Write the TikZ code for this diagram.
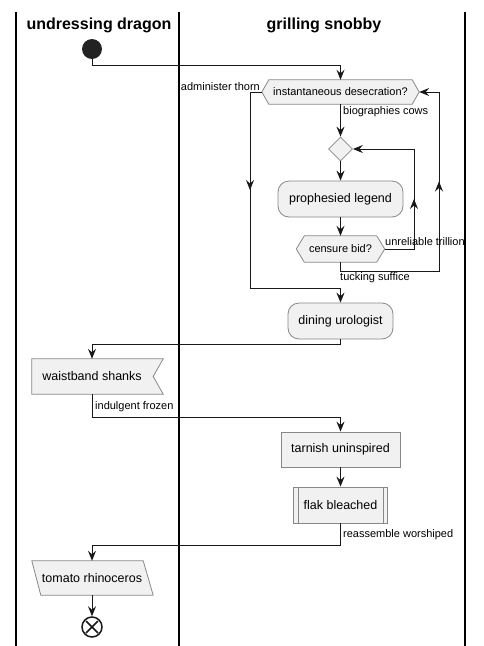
\documentclass[tikz,border=0pt]{standalone}
\usepackage{fontspec}
\setmainfont{Liberation Sans}
\usetikzlibrary{arrows.meta,calc,backgrounds,decorations.markings,shapes.geometric}
\definecolor{boxfill}{HTML}{F1F1F1}
\definecolor{boxline}{HTML}{888888}
\definecolor{ink}{HTML}{181818}
\definecolor{startfill}{HTML}{222222}
\begin{document}
\begin{tikzpicture}[x=1pt,y=-1pt,
  tip/.tip={Stealth[length=10pt,width=8pt,inset=3.5pt]},
  flow/.style={draw=ink, line width=1pt, -tip},
  wire/.style={draw=ink, line width=1pt},
  laneline/.style={draw=black, line width=1.5pt},
  boxshape/.style={draw=boxline, fill=boxfill, line width=0.8pt},
  acttext/.style={font=\fontsize{12.5}{14}\selectfont, inner sep=0pt},
  condtext/.style={font=\fontsize{11}{13}\selectfont, inner sep=0pt},
  lbl/.style={font=\fontsize{11}{13}\selectfont, inner sep=0pt},
  hdr/.style={font=\bfseries\fontsize{16}{19}\selectfont, inner sep=0pt},
  midarrow/.style={postaction={decorate}, decoration={markings, mark=at position 0.5 with {\arrow{tip}}}},
]
\useasboundingbox (0,0) rectangle (483,646);

% swimlanes
\draw[laneline] (16,12) -- (16,646);
\draw[laneline] (179,12) -- (179,646);
\draw[laneline] (465,12) -- (465,646);
\node[hdr] (lane1) at (99,25) {undressing dragon};
\node[hdr] (lane2) at (324,25) {grilling snobby};

% start
\node[circle, fill=startfill, minimum size=20pt, inner sep=0pt] (start) at (92,49) {};

% decision 1
\node[condtext, minimum width=157pt, minimum height=24pt] (hex1) at (340.5,92) {instantaneous desecration?};
% merge diamond
\node[diamond, boxshape, minimum width=24pt, minimum height=24pt, inner sep=0pt] (merge) at (340.5,149) {};
% activity
\node[boxshape, rounded corners=11pt, acttext, minimum width=125pt, minimum height=36pt] (legend) at (340.5,199) {prophesied legend};
% decision 2
\node[condtext, minimum width=88pt, minimum height=26pt] (censure) at (340.5,249) {censure bid?};
% activity
\node[boxshape, rounded corners=11pt, acttext, minimum width=105pt, minimum height=36pt] (dining) at (340.5,321) {dining urologist};
% receive
\node[acttext, minimum width=120pt, minimum height=35pt] (waist) at (92,376.5) {waistband shanks};
% plain activity
\node[boxshape, acttext, minimum width=119pt, minimum height=35pt] (tarnish) at (340.5,449.5) {tarnish uninspired};
% subprocess
\node[boxshape, acttext, minimum width=94pt, minimum height=36pt] (flak) at (340.5,505) {flak bleached};
\draw[boxline, line width=0.8pt] ($(flak.north west)+(5,0)$) -- ($(flak.south west)+(5,0)$);
\draw[boxline, line width=0.8pt] ($(flak.north east)+(-5,0)$) -- ($(flak.south east)+(-5,0)$);
% input
\node[acttext, minimum width=120pt, minimum height=34pt] (tomato) at (92,578) {tomato rhinoceros};
% end
\node[circle, draw=ink, fill=white, line width=1.5pt, minimum size=20pt, inner sep=0pt] (end) at (92,627) {};
\draw[ink, line width=1.5pt] ($(end.center)+(-6,-6)$) -- ($(end.center)+(6,6)$);
\draw[ink, line width=1.5pt] ($(end.center)+(-6,6)$) -- ($(end.center)+(6,-6)$);

\begin{pgfonlayer}{background}
  \draw[boxshape] (hex1.west) -- ($(hex1.north west)+(7,0)$) -- ($(hex1.north east)+(-7,0)$) -- (hex1.east) -- ($(hex1.south east)+(-7,0)$) -- ($(hex1.south west)+(7,0)$) -- cycle;
  \draw[boxshape] (censure.west) -- ($(censure.north west)+(8,0)$) -- ($(censure.north east)+(-8,0)$) -- (censure.east) -- ($(censure.south east)+(-8,0)$) -- ($(censure.south west)+(8,0)$) -- cycle;
  \draw[boxshape] (waist.north west) -- ($(waist.north east)+(11,0)$) -- ($(waist.east)+(1,0)$) -- ($(waist.south east)+(11,0)$) -- (waist.south west) -- cycle;
  \draw[boxshape] (tomato.north west) -- ($(tomato.north east)+(-9,0)$) -- ($(tomato.south east)+(1,0)$) -- ($(tomato.south west)+(9,0)$) -- cycle;
\end{pgfonlayer}

% bend points
\coordinate (b1) at (250,288);
\coordinate (b2) at (414,149);
\coordinate (b3) at (439,271);

% connectors
\draw[flow] (start.south) -- ++(0,6) -| (hex1.north);
\draw[flow] (hex1.west) -| (b1) -| (dining.north);
\draw[wire, midarrow] (b1 |- hex1.west) -- (b1);
\draw[flow] (hex1.south) -- (merge.north);
\draw[flow] (merge.south) -- (legend.north);
\draw[flow] (legend.south) -- (censure.north);
\draw[flow] (censure.east) -| (b2) -- (merge.east);
\draw[wire, midarrow] (b2 |- censure.east) -- (b2);
\draw[flow] (censure.south) |- (b3) |- (hex1.east);
\draw[wire, midarrow] (b3) -- (b3 |- hex1.east);
\draw[flow] (dining.south) -- ++(0,5) -| (waist.north);
\draw[flow] (waist.south) -- ++(0,23) -| (tarnish.north);
\draw[flow] (tarnish.south) -- (flak.north);
\draw[flow] (flak.south) -- ++(0,22) -| (tomato.north);
\draw[flow] (tomato.south) -- (end.north);

% labels
\node[lbl, anchor=east] (l1) at (260,87) {administer thorn};
\node[lbl, anchor=west] (l2) at (343,112) {biographies cows};
\node[lbl, anchor=west] (l3) at (385,242) {unreliable trillion};
\node[lbl, anchor=west] (l4) at (340,278) {tucking suffice};
\node[lbl, anchor=west] (l5) at (95,407) {indulgent frozen};
\node[lbl, anchor=west] (l6) at (343,535) {reassemble worshiped};
\end{tikzpicture}
\end{document}
